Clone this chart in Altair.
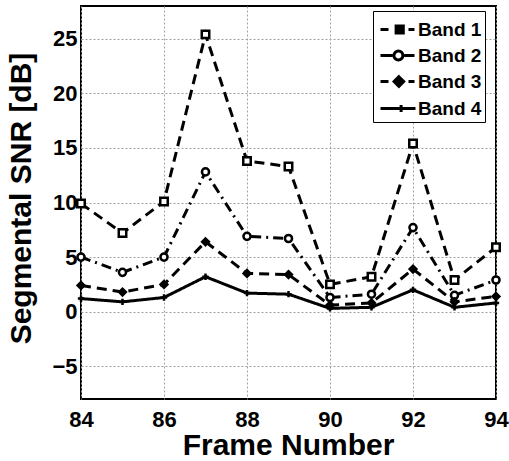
import altair as alt
import pandas as pd

frames = [84, 85, 86, 87, 88, 89, 90, 91, 92, 93, 94]
bands = ["Band 1", "Band 2", "Band 3", "Band 4"]
band1 = [9.9, 7.2, 10.1, 25.4, 13.8, 13.3, 2.5, 3.2, 15.4, 2.9, 5.9]
band2 = [5.0, 3.6, 5.0, 12.8, 6.9, 6.7, 1.3, 1.6, 7.7, 1.5, 2.9]
band3 = [2.4, 1.8, 2.5, 6.4, 3.5, 3.4, 0.6, 0.8, 3.9, 0.9, 1.4]
band4 = [1.2, 0.9, 1.3, 3.2, 1.7, 1.6, 0.3, 0.4, 2.0, 0.4, 0.8]

x_ticks = [84, 86, 88, 90, 92, 94]
y_ticks = [-5, 0, 5, 10, 15, 20, 25]

rows = []
for name, vals in zip(bands, [band1, band2, band3, band4]):
    for f, v in zip(frames, vals):
        rows.append({"Frame": f, "SNR": v, "Band": name})
df = pd.DataFrame(rows)

FONT = "Liberation Sans"

dash_range = [[10, 6], [10, 5, 2, 5], [10, 6], [1, 0]]
marker_shapes = ["square", "circle", "diamond", "M-1,0H1M0,-1V1"]
marker_sizes = [56, 40, 64, 100]
marker_fills = ["white", "white", "black", "white"]

legend_paths = [
    "M-0.786,0H-0.214M1.214,0H1.643M0.33,-0.257H0.843V0.257H0.33ZM0.479,-0.103H0.686V0.103H0.479Z",
    "M-0.786,0H0.071M0.914,0H1.643M0.813,0A0.32,0.32 0 1,1 0.173,0A0.32,0.32 0 1,1 0.813,0Z",
    "M-0.786,0H-0.214M1.214,0H1.643M0.529,-0.343L0.872,0L0.529,0.343L0.186,0ZM0.529,-0.167L0.696,0L0.529,0.167L0.362,0ZM0.529,-0.051L0.58,0L0.529,0.051L0.478,0Z",
    "M-0.786,0H1.714M0.686,-0.257V0.257",
]

x_enc = alt.X("Frame:Q", scale=alt.Scale(domain=[84, 94], nice=False, zero=False),
              axis=alt.Axis(values=x_ticks, title="Frame Number", format="d",
                            titleX=207, titleY=61, titleBaseline="bottom",
                            labelBaseline="alphabetic", labelPadding=27, labelFlush=False))
y_enc = alt.Y("SNR:Q", scale=alt.Scale(domain=[-8, 28], nice=False, zero=False),
              axis=alt.Axis(values=y_ticks, title="Segmental SNR [dB]",
                            titleX=-51, titleY=192, titleBaseline="alphabetic",
                            labelPadding=4, labelFlush=False))

lines = alt.Chart(df).mark_line(color="black", strokeWidth=3).encode(
    x=x_enc, y=y_enc,
    strokeDash=alt.StrokeDash("Band:N", scale=alt.Scale(domain=bands, range=dash_range), legend=None),
)

points = alt.Chart(df).mark_point(filled=True, stroke="black", strokeWidth=2.5, opacity=1).encode(
    x=x_enc, y=y_enc,
    shape=alt.Shape("Band:N", scale=alt.Scale(domain=bands, range=marker_shapes), legend=None),
    size=alt.Size("Band:N", scale=alt.Scale(domain=bands, range=marker_sizes), legend=None),
    fill=alt.Fill("Band:N", scale=alt.Scale(domain=bands, range=marker_fills), legend=None),
)

legend_layer = alt.Chart(df).mark_point(filled=False, color="black", strokeWidth=3, opacity=1).encode(
    x=x_enc, y=y_enc,
    shape=alt.Shape("Band:N", scale=alt.Scale(domain=bands, range=legend_paths),
                    legend=alt.Legend(title=None, orient="none", legendX=292, legendY=5,
                                      labelFont=FONT, labelFontWeight="bold", labelFontSize=19,
                                      labelColor="black", strokeColor="black", fillColor="white",
                                      padding=3, rowPadding=0, symbolSize=784,
                                      symbolStrokeWidth=3, symbolStrokeColor="black",
                                      symbolFillColor="transparent", labelOffset=11,
                                      cornerRadius=0)),
).transform_filter("false")

chart = alt.layer(lines, points, legend_layer).resolve_scale(shape="independent").properties(
    width=415, height=393,
    background="white",
    autosize=alt.AutoSizeParams(type="none"),
    padding={"left": 81, "top": 6, "right": 13, "bottom": 62},
).configure_view(stroke="black", strokeWidth=2).configure_axis(
    labelFont=FONT, labelFontWeight="bold", labelFontSize=22, labelColor="black",
    titleFont=FONT, titleFontWeight="bold", titleFontSize=30, titleColor="black",
    grid=True, gridColor="#a0a0a0", gridDash=[2, 2], gridWidth=1,
    domain=False, ticks=False, tickSize=0,
)

chart.save("out.html", embed_options={"renderer": "svg", "actions": False})
